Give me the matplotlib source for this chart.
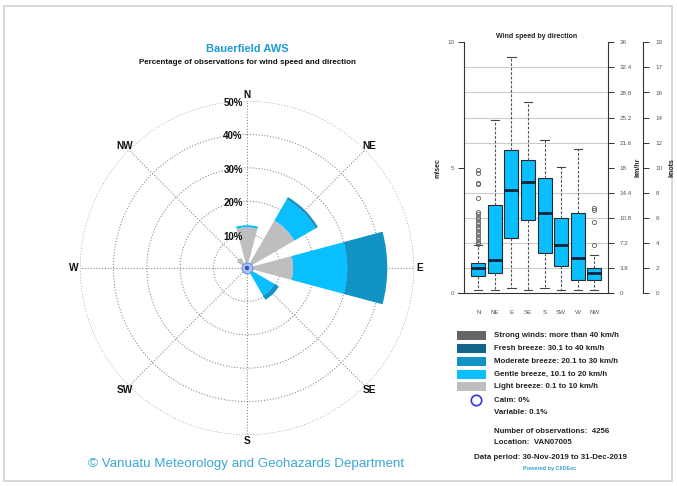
import numpy as np
import matplotlib
matplotlib.use("Agg")
import matplotlib.pyplot as plt
from matplotlib.patches import Rectangle
from matplotlib import transforms

plt.rcParams['font.family'] = ['Liberation Sans', 'DejaVu Sans']

W, H = 677, 486

# ---- wind rose data: percentage of observations per direction and speed class
directions = ["N", "NE", "E", "SE", "S", "SW", "W", "NW"]
bearings_deg = [0, 45, 90, 135, 180, 225, 270, 315]

light_breeze = [12.2, 16.4, 13.8, 1.8, 1.0, 0.8, 1.0, 3.5]
gentle_breeze = [0.6, 7.3, 16.2, 7.7, 0.0, 0.0, 0.0, 0.0]
moderate_breeze = [0.0, 0.8, 12.0, 1.5, 0.0, 0.0, 0.0, 0.0]
fresh_breeze = [0.0, 0.0, 0.0, 0.0, 0.0, 0.0, 0.0, 0.0]
strong_winds = [0.0, 0.0, 0.0, 0.0, 0.0, 0.0, 0.0, 0.0]

ring_levels = [10, 20, 30, 40, 50]

class_labels = ["Strong winds: more than 40 km/h",
                "Fresh breeze: 30.1 to 40 km/h",
                "Moderate breeze: 20.1 to 30 km/h",
                "Gentle breeze, 10.1 to 20 km/h",
                "Light breeze: 0.1 to 10 km/h"]
class_colors = ["#656565", "#11668a", "#1193c5", "#0abfff", "#bebebe"]

calm_pct = 0
variable_pct = 0.1
n_obs = 4256
station = "VAN07005"
period = "30-Nov-2019 to 31-Dec-2019"

# ---- wind speed (m/s) box statistics by direction
box_q1 = [0.69, 0.82, 2.22, 2.92, 1.62, 1.10, 0.53, 0.53]
box_med = [1.02, 1.33, 4.12, 4.42, 3.21, 1.92, 1.42, 0.82]
box_q3 = [1.22, 3.52, 5.71, 5.31, 4.61, 2.99, 3.21, 1.02]
box_whislo = [0.13, 0.13, 0.22, 0.13, 0.22, 0.13, 0.13, 0.13]
box_whishi = [1.92, 6.90, 9.40, 7.61, 6.11, 5.02, 5.74, 1.53]
fliers_n = [4.9, 4.8, 4.4, 4.35, 3.8, 3.25, 3.15, 3.05, 2.95, 2.85, 2.75,
            2.65, 2.55, 2.45, 2.35, 2.25, 2.15, 2.05, 1.98]
fliers_nw = [3.39, 3.32, 2.83, 1.92]
box_fliers = [fliers_n, [], [], [], [], [], [], fliers_nw]

ms_ticks = [0, 5, 10]
kmh_ticks = [0, 3.6, 7.2, 10.8, 14.4, 18, 21.6, 25.2, 28.8, 32.4, 36]

fig = plt.figure(figsize=(W / 100, H / 100), dpi=100)

# ---- overlay for frame, titles and legend (pixel coordinates)
ov = fig.add_axes([0, 0, 1, 1])
ov.set_xlim(0, W)
ov.set_ylim(H, 0)
ov.axis('off')
ov.add_patch(Rectangle((3.5, 6), 668.5, 475, fill=False, edgecolor='#d2d2d2', lw=1.2))

ov.text(247, 48.5, "Bauerfield AWS", ha='center', va='center', fontsize=8,
        weight='bold', color='#1e9bd7')
ov.text(247, 62, "Percentage of observations for wind speed and direction",
        ha='center', va='center', fontsize=5.8, weight='bold', color='#111111')
ov.text(246, 464, "\u00a9 Vanuatu Meteorology and Geohazards Department",
        ha='center', va='center', fontsize=9.6, color='#3ca7d3')

legend_rows = [335.5, 348.5, 361.5, 374, 386.5]
for y, lab, col in zip(legend_rows, class_labels, class_colors):
    ov.add_patch(Rectangle((457, y - 4.5), 29, 9, facecolor=col, edgecolor='none'))
    ov.text(494, y, lab, ha='left', va='center', fontsize=5.7, weight='bold', color='#222222')
ov.plot([476], [400], marker='o', markersize=7.5, markerfacecolor='none',
        markeredgecolor='#3535e0', markeredgewidth=1.2)
ov.text(494, 400, f"Calm: {calm_pct}%", ha='left', va='center', fontsize=5.7,
        weight='bold', color='#222222')
ov.text(494, 412, f"Variable: {variable_pct}%", ha='left', va='center', fontsize=5.7,
        weight='bold', color='#222222')
ov.text(494, 431.5, f"Number of observations:  {n_obs}", ha='left', va='center',
        fontsize=5.7, weight='bold', color='#222222')
ov.text(494, 442.5, f"Location:  {station}", ha='left', va='center', fontsize=5.7,
        weight='bold', color='#222222')
ov.text(550, 457, f"Data period: {period}", ha='center', va='center', fontsize=5.7,
        weight='bold', color='#222222')
ov.text(550, 468, "Powered by CliDEsc", ha='center', va='center', fontsize=4,
        weight='bold', color='#3a9fd8')

# ---- wind rose
cx, cy, rad = 247, 268, 167
axr = fig.add_axes([(cx - rad) / W, (H - cy - rad) / H, 2 * rad / W, 2 * rad / H],
                   projection='polar')
axr.set_facecolor('none')
axr.set_theta_zero_location('N')
axr.set_theta_direction(-1)
axr.set_ylim(0, 50)
theta = np.deg2rad(bearings_deg)
bottom = np.zeros(len(directions))
stack = [light_breeze, gentle_breeze, moderate_breeze, fresh_breeze, strong_winds]
for vals, col in zip(stack, class_colors[::-1]):
    vals = np.asarray(vals)
    axr.bar(theta, vals, width=np.deg2rad(30), bottom=bottom, color=col,
            edgecolor='none', zorder=3)
    bottom = bottom + vals
axr.set_xticks(theta)
axr.set_xticklabels([])
axr.set_yticks(ring_levels)
axr.set_yticklabels([])
axr.grid(True, color='#8e8e8e', linestyle=(0, (1, 1.6)), linewidth=0.8)
axr.spines['polar'].set_visible(False)

for d, t in zip(directions, theta):
    axr.text(t, 51.8, d, ha='center', va='center', fontsize=7.3, weight='bold',
             color='#111111', clip_on=False)
ring_tr = transforms.offset_copy(axr.transData, fig=fig, x=-14, y=-2, units='dots')
for lv in ring_levels:
    axr.text(0, lv, f"{lv}%", transform=ring_tr, ha='center', va='center',
             fontsize=7, weight='bold', color='#111111')
axr.scatter([0], [0], s=60, facecolor='#a6c4f4', edgecolor='#6f8fe6', lw=0.8, zorder=5)
axr.scatter([0], [0], s=10, facecolor='#3552c8', edgecolor='none', zorder=6)

# ---- box plot of wind speed by direction
bl, br, bt, bb = 464, 608.3, 42.3, 293.3
axb = fig.add_axes([bl / W, (H - bb) / H, (br - bl) / W, (bb - bt) / H])
axb.set_facecolor('none')
stats = []
for i, d in enumerate(directions):
    stats.append(dict(label=d, q1=box_q1[i], med=box_med[i], q3=box_q3[i],
                      whislo=box_whislo[i], whishi=box_whishi[i], fliers=box_fliers[i]))
positions = np.arange(1, len(directions) + 1)
axb.bxp(stats, positions=positions, widths=0.85, capwidths=0.5, patch_artist=True,
        showfliers=True,
        boxprops=dict(facecolor='#0abfff', edgecolor='#2a2a2a', linewidth=0.8),
        medianprops=dict(color='#15203a', linewidth=2.0),
        whiskerprops=dict(color='#555555', linestyle=(0, (2.5, 1.5)), linewidth=0.8),
        capprops=dict(color='#444444', linewidth=0.8),
        flierprops=dict(marker='o', markerfacecolor='none', markeredgecolor='#5e5e5e',
                        markersize=3, markeredgewidth=0.6))
axb.set_xlim(0.137, 8.845)
axb.set_ylim(0, 10)
axb.set_yticks(ms_ticks)
axb.set_yticklabels([str(v) for v in ms_ticks])
axb.set_yticks(np.array(kmh_ticks[1:-1]) / 3.6, minor=True)
axb.grid(which='minor', axis='y', color='#cccccc', linewidth=0.8)
axb.set_axisbelow(True)
axb.tick_params(axis='y', which='major', labelsize=4.5, labelcolor='#555555',
                color='#333333', length=4, width=0.7, pad=3)
axb.tick_params(axis='y', which='minor', length=0)
axb.set_xticks(positions)
axb.set_xticklabels(directions)
axb.tick_params(axis='x', length=0, labelsize=4.5, labelcolor='#555555', pad=12)
axb.spines['top'].set_visible(False)
axb.spines['right'].set_visible(False)
for s in ('left', 'bottom'):
    axb.spines[s].set_color('#333333')
    axb.spines[s].set_linewidth(0.8)
axb.spines['bottom'].set_bounds(-0.22, 9.07)
axb.set_ylabel("m/sec", fontsize=5, weight='bold', color='#222222', labelpad=4)
axb.set_title("Wind speed by direction", fontsize=5, weight='bold', color='#222222', pad=3)

ax2 = axb.twinx()
ax2.set_ylim(0, 36)
ax2.set_yticks(kmh_ticks)
ax2.set_yticklabels([f"{v:g}" for v in kmh_ticks])
ax2.tick_params(axis='y', labelsize=4.5, labelcolor='#555555', color='#333333',
                length=4, width=0.7, pad=4)
for s in ('left', 'top', 'bottom'):
    ax2.spines[s].set_visible(False)
ax2.spines['right'].set_color('#333333')
ax2.spines['right'].set_linewidth(0.8)
ax2.set_ylabel("km/hr", fontsize=5, weight='bold', color='#222222', labelpad=2)

ax3 = axb.twinx()
ax3.spines['right'].set_position(('outward', 25))
ax3.set_ylim(0, 36)
ax3.set_yticks(kmh_ticks)
ax3.set_yticklabels([str(int(round(v / 1.852))) for v in kmh_ticks])
ax3.tick_params(axis='y', labelsize=4.5, labelcolor='#555555', color='#333333',
                length=4, width=0.7, pad=5)
for s in ('left', 'top', 'bottom'):
    ax3.spines[s].set_visible(False)
ax3.spines['right'].set_color('#333333')
ax3.spines['right'].set_linewidth(0.8)
ax3.set_ylabel("knots", fontsize=5, weight='bold', color='#222222', labelpad=4)

fig.savefig("out.png", dpi=100, facecolor='white')
